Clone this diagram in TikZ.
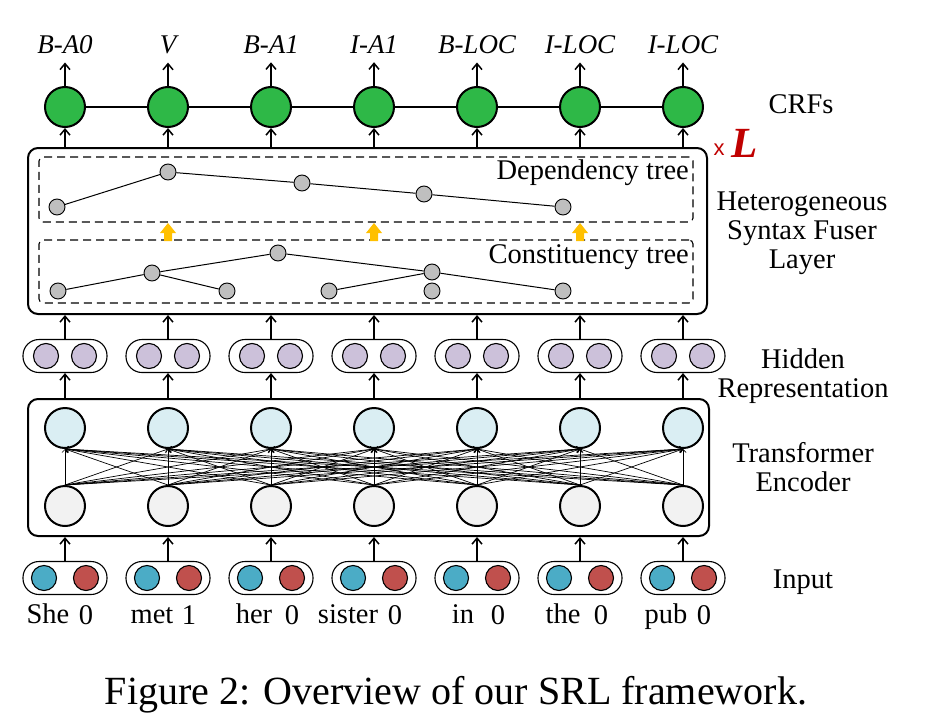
\documentclass[tikz,border=0pt]{standalone}
\usepackage{fontspec}
\setmainfont{Liberation Serif}
\newfontfamily\arialfont{Liberation Sans}
\usetikzlibrary{arrows.meta}
\tikzset{>={Straight Barb[length=6pt,width=10pt]}}

\definecolor{crfgreen}{RGB}{46,184,71}
\definecolor{treegray}{HTML}{BFBFBF}
\definecolor{hidpurple}{HTML}{CCC1DA}
\definecolor{enctop}{HTML}{DAEEF3}
\definecolor{encbot}{HTML}{F2F2F2}
\definecolor{inblue}{HTML}{4BACC6}
\definecolor{inred}{HTML}{C0504D}
\definecolor{fuse}{HTML}{FFC000}
\definecolor{lred}{HTML}{C00000}

\begin{document}
\begin{tikzpicture}[x=1pt,y=-1pt]
	\tikzstyle{crf} = [circle, draw=black, line width=2pt, fill=crfgreen, minimum size=40pt, inner sep=0pt]
	\tikzstyle{tag} = [font=\rmfamily\fontsize{27}{29}\selectfont\itshape, inner sep=1pt, anchor=base]
	\tikzstyle{edge} = [->, line width=1.5pt]
	\tikzstyle{bigbox} = [draw=black, line width=2pt, rounded corners=10pt, inner sep=0pt]
	\tikzstyle{treebox} = [draw=black, line width=1.1pt, dash pattern=on 8pt off 5pt, rounded corners=4pt, inner sep=0pt]
	\tikzstyle{tnode} = [circle, draw=black, line width=0.9pt, fill=treegray, minimum size=16pt, inner sep=0pt]
	\tikzstyle{pill} = [draw=black, line width=1.1pt, rounded corners=16pt, minimum width=84pt, minimum height=33pt, inner sep=0pt]
	\tikzstyle{dot} = [circle, draw=black, line width=1.1pt, minimum size=25pt, inner sep=0pt]
	\tikzstyle{enc} = [circle, draw=black, line width=2pt, minimum size=40pt, inner sep=0pt]
	\tikzstyle{attn} = [-{Straight Barb[length=3pt,width=6pt]}, line width=0.7pt]
	\tikzstyle{side} = [font=\rmfamily\fontsize{28.5}{29}\selectfont, align=center]
	\tikzstyle{word} = [font=\rmfamily\fontsize{28.5}{30}\selectfont, anchor=base, inner sep=0pt]

	\useasboundingbox (0,0) rectangle (925,725);

%----------CRFs------------------------------
	\foreach \i/\x/\t in {1/65/B-A0, 2/168/V, 3/271/B-A1, 4/374/I-A1, 5/477/B-LOC, 6/580/I-LOC, 7/683/I-LOC} {
		\node[crf] (c\i) at (\x,107) {};
		\node[tag] (o\i) at (\x,53) {\t};
		\draw[edge, shorten >=8pt] (c\i) -- (o\i);
	}
	\foreach \i/\j in {1/2, 2/3, 3/4, 4/5, 5/6, 6/7}
		\draw[line width=1.5pt] (c\i) -- (c\j);

%----------Fuser layer------------------------------
	\node[bigbox, minimum width=679pt, minimum height=166pt] (fuser) at (367.5,231) {};
	\node[treebox, minimum width=654pt, minimum height=65pt] (dep) at (366,189.5) {};
	\node[treebox, minimum width=654pt, minimum height=63pt] (con) at (366,271.5) {};
	\node[side, anchor=base east, inner sep=0pt] (deplbl) at (689,179) {Dependency tree};
	\node[side, anchor=base east, inner sep=0pt] (conlbl) at (689,263) {Constituency tree};

	% dependency tree
	\node[tnode] (d1) at (57,207) {};
	\node[tnode] (d2) at (168,172) {};
	\node[tnode] (d3) at (302,183) {};
	\node[tnode] (d4) at (424,194) {};
	\node[tnode] (d5) at (563,207) {};
	\draw[line width=1pt] (d1) -- (d2) -- (d3) -- (d4) -- (d5);

	% constituency tree
	\node[tnode] (s1) at (58,291) {};
	\node[tnode] (s2) at (152,273) {};
	\node[tnode] (s3) at (227,291) {};
	\node[tnode] (s4) at (278,253) {};
	\node[tnode] (s5) at (329,291) {};
	\node[tnode] (s6) at (432,272) {};
	\node[tnode] (s7) at (432,291) {};
	\node[tnode] (s8) at (563,291) {};
	\draw[line width=1pt] (s1) -- (s2) -- (s4) -- (s6) -- (s8);
	\draw[line width=1pt] (s2) -- (s3);
	\draw[line width=1pt] (s5) -- (s6);

	\foreach \x in {168,374,580}
		\fill[fuse] ({\x-4},241) -- ({\x-4},233) -- ({\x-8},233) -- (\x,223) -- ({\x+8},233) -- ({\x+4},233) -- ({\x+4},241) -- cycle;

	\foreach \i/\x in {1/65, 2/168, 3/271, 4/374, 5/477, 6/580, 7/683}
		\draw[edge] (c\i |- fuser.north) -- (c\i);

%----------Hidden representation------------------------------
	\foreach \i/\x in {1/65, 2/168, 3/271, 4/374, 5/477, 6/580, 7/683} {
		\node[pill] (h\i) at (\x,356) {};
		\node[dot, fill=hidpurple] (h\i a) at ({\x-19},356) {};
		\node[dot, fill=hidpurple] (h\i b) at ({\x+19},356) {};
		\draw[edge] (h\i) -- (h\i |- fuser.south);
	}

%----------Transformer encoder------------------------------
	\node[bigbox, minimum width=681pt, minimum height=137pt] (encoder) at (368.5,467.5) {};
	\foreach \i/\x in {1/65, 2/168, 3/271, 4/374, 5/477, 6/580, 7/683} {
		\node[enc, fill=enctop] (t\i) at (\x,428) {};
		\node[enc, fill=encbot] (b\i) at (\x,506) {};
		\draw[edge] (h\i |- encoder.north) -- (h\i);
	}
	\foreach \i in {1,...,7}
		\foreach \j in {1,...,7}
			\draw[attn] (b\i.north) -- (t\j.south);

%----------Input------------------------------
	\foreach \i/\x in {1/65, 2/168, 3/271, 4/374, 5/477, 6/580, 7/683} {
		\node[pill] (in\i) at (\x,578) {};
		\node[dot, fill=inblue] (in\i a) at ({\x-21},578) {};
		\node[dot, fill=inred] (in\i b) at ({\x+21},578) {};
		\draw[edge] (in\i) -- (in\i |- encoder.south);
	}
	\foreach \i/\x/\w/\n/\d in {1/65/She/0/-17, 2/168/met/1/-16, 3/271/her/0/-17, 4/374/sister/0/-26, 5/477/in/0/-14, 6/580/the/0/-17, 7/683/pub/0/-17} {
		\node[word] (w\i) at ({\x+\d},623) {\w};
		\node[word] (n\i) at ({\x+21},624) {\n};
	}

%----------Labels------------------------------
	\node[side, anchor=base] (crflbl) at (801,113) {CRFs};
	\node[side] (fuserlbl) at (802,233) {Heterogeneous\\Syntax Fuser\\Layer};
	\node[side] (hidlbl) at (803,376) {Hidden\\Representation};
	\node[side] (enclbl) at (803,467) {Transformer\\Encoder};
	\node[side, anchor=base] (inlbl) at (803,588) {Input};

	\node[text=lred, font=\arialfont\fontsize{22}{24}\selectfont, anchor=base, inner sep=0pt] (times) at (719,155) {x};
	\node[text=lred, font=\rmfamily\fontsize{43}{45}\selectfont\bfseries\itshape, anchor=base, inner sep=0pt] (layers) at (745,157) {L};

	\node[font=\rmfamily\fontsize{40}{44}\selectfont, anchor=base] (caption) at (456,704) {Figure 2: Overview of our SRL framework.};
\end{tikzpicture}
\end{document}
